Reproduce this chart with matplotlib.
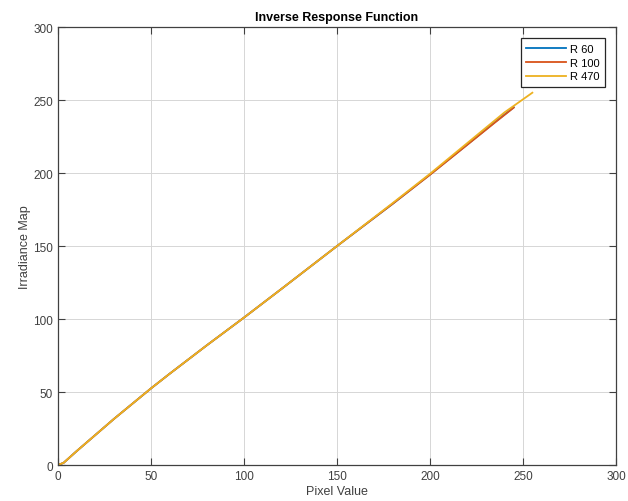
import matplotlib.pyplot as plt
import numpy as np

plt.rcParams['font.family'] = ['Liberation Sans', 'DejaVu Sans']

# inverse response curves
x60 = np.array([0, 3, 10, 20, 30, 40, 50, 60, 80, 100, 120, 150, 180, 200, 220, 235, 245])
y60 = np.array([0, 1.5, 9.5, 20.5, 31.5, 42, 52.5, 62.5, 82, 101, 120.5, 150, 179, 199, 219.5, 235, 245])

x100 = np.array([0, 3, 10, 20, 30, 40, 50, 60, 80, 100, 120, 150, 180, 200, 220, 235, 245])
y100 = np.array([0, 1.5, 9.5, 20.5, 31.5, 42, 52.5, 62.5, 82, 101, 120.5, 150, 179, 198.8, 219.3, 234.7, 244.8])

x470 = np.array([0, 3, 10, 20, 30, 40, 50, 60, 80, 100, 120, 150, 180, 200, 220, 240, 255])
y470 = np.array([0, 1.5, 9.5, 20.5, 31.5, 42, 52.5, 62.5, 82, 101, 120.5, 150, 179.5, 199.5, 220.5, 241.5, 255])

fig = plt.figure(figsize=(6.28, 5.02), dpi=100)
ax = fig.add_axes([0.0924, 0.0717, 0.8886, 0.8725])

ax.plot(x60, y60, color=(0, 0.447, 0.741), lw=1.3, label='R 60')
ax.plot(x100, y100, color=(0.85, 0.325, 0.098), lw=1.3, label='R 100')
ax.plot(x470, y470, color=(0.929, 0.694, 0.125), lw=1.3, label='R 470')

ax.set_xlim(0, 300)
ax.set_ylim(0, 300)
ax.set_xticks(np.arange(0, 301, 50))
ax.set_yticks(np.arange(0, 301, 50))
ax.grid(True, color='#d6d6d6', lw=0.7)
ax.set_axisbelow(True)
ax.tick_params(direction='in', length=5, labelsize=8.5, colors='#404040', top=True, right=True,
               labeltop=False, labelright=False)
for s in ax.spines.values():
    s.set_color('#404040')
    s.set_linewidth(0.9)

ax.set_title('Inverse Response Function', fontsize=9, fontweight='bold', pad=5)
ax.set_xlabel('Pixel Value', fontsize=9, color='#404040', labelpad=2)
ax.set_ylabel('Irradiance Map', fontsize=9, color='#404040', labelpad=2)

leg = ax.legend(loc='upper right', fontsize=8, fancybox=False, framealpha=1,
                edgecolor='#262626', handlelength=3.6, handletextpad=0.3,
                borderaxespad=1.0, labelspacing=0.35, borderpad=0.5)
leg.get_frame().set_linewidth(0.9)

fig.savefig('out.png', dpi=100)
